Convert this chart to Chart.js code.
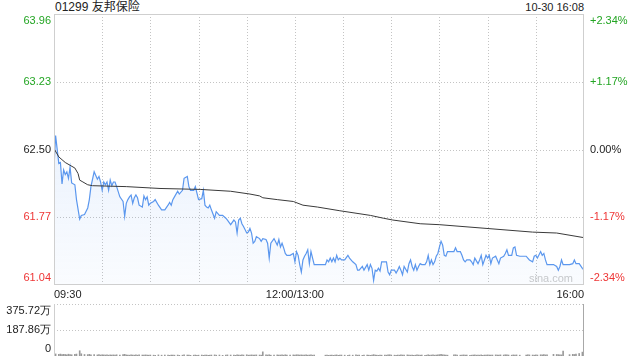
<!DOCTYPE html>
<html><head><meta charset="utf-8">
<script src="https://cdn.jsdelivr.net/npm/chart.js@4"></script>
<style>
html,body{margin:0;padding:0;background:#fff;width:640px;height:360px;overflow:hidden;font-family:"Liberation Sans","Noto Sans CJK SC",Arial,sans-serif;}
#title{position:absolute;left:55px;top:0px;font-size:12px;color:#222;line-height:15px;white-space:nowrap;}
#stamp{position:absolute;right:56px;top:0px;font-size:11px;color:#222;line-height:15px;white-space:nowrap;}
canvas{position:absolute;left:0;}
</style></head><body>
<div id="title">01299 友邦保险</div>
<div id="stamp">10-30 16:08</div>
<canvas id="c1" width="640" height="300" style="top:0px"></canvas>
<canvas id="c2" width="640" height="60" style="top:300px"></canvas>
<script>
// ---- data ----
const prevClose = 62.50;
const priceTicks = [61.04, 61.77, 62.50, 63.23, 63.96];
const volTicks = [0, 187.86, 375.72];
const gridMinutes = [0,30,60,90,120,150,180,210,240,270,300,330];
const timeTickValues = [0,150,330];
const timeTickLabels = ['09:30','12:00/13:00','16:00'];

const minutes = [
0,1,3,4,5,6,7,8,9,10,
11,13,14,16,17,19,21,22,23,25,
27,28,29,30,31,32,33,34,35,36,
37,38,39,41,43,44,45,46,47,48,
49,50,51,52,53,55,56,57,58,59,
60,62,63,65,67,69,71,72,73,74,
75,77,78,80,81,83,84,85,87,88,
89,90,92,93,94,95,96,97,98,100,
101,103,105,107,108,110,112,113,114,115,
116,117,118,120,121,122,123,124,125,126,
128,129,130,132,133,134,135,137,139,140,
141,142,143,144,145,147,149,150,151,152,
153,154,155,156,157,158,159,160,161,162,
169,170,171,172,173,174,175,176,177,178,
179,181,183,184,186,188,189,190,192,193,
195,196,197,198,199,200,201,202,203,204,
206,207,208,209,210,212,213,214,215,216,
217,218,220,221,222,223,224,225,226,227,
228,229,231,232,233,234,235,236,237,238,
239,240,241,242,243,244,245,249,250,251,
253,254,255,256,257,259,260,261,262,263,
264,265,266,267,268,269,270,271,272,273,
275,276,277,278,280,281,282,283,285,286,
287,288,290,294,295,296,298,299,300,301,
303,304,305,306,307,311,313,314,315,316,
317,321,323,324,325,327,329,330];

const prices = [
62.31,62.65,62.35,62.36,62.13,62.28,62.23,62.26,62.19,62.31,
62.14,62.12,61.96,61.75,61.79,61.80,61.87,61.96,62.10,62.26,
62.18,62.21,62.15,62.06,62.15,62.12,62.15,62.06,62.17,62.11,
62.15,62.15,62.10,61.99,61.94,61.78,61.92,61.96,61.99,62.01,
61.92,61.98,62.01,61.98,61.90,61.88,62.00,61.96,61.99,61.90,
61.92,61.94,61.96,61.90,61.85,61.85,61.90,61.93,61.90,61.96,
61.99,62.05,62.02,62.06,62.19,62.21,62.10,62.06,62.06,62.10,
62.03,61.96,61.97,62.06,61.90,61.88,61.87,61.90,61.85,61.76,
61.83,61.79,61.79,61.76,61.74,61.69,61.74,61.72,61.60,61.74,
61.76,61.70,61.67,61.60,61.61,61.65,61.60,61.49,61.51,61.56,
61.54,61.51,61.54,61.53,61.49,61.33,61.49,61.54,61.47,61.53,
61.45,61.49,61.44,61.38,61.36,61.36,61.38,61.29,61.40,61.36,
61.26,61.18,61.31,61.35,61.38,61.42,61.27,61.40,61.33,61.26,
61.26,61.31,61.29,61.33,61.29,61.33,61.29,61.36,61.31,61.33,
61.31,61.31,61.36,61.33,61.29,61.26,61.20,61.20,61.24,61.20,
61.26,61.20,61.26,61.22,61.09,61.20,61.19,61.22,61.19,61.29,
61.29,61.29,61.18,61.15,61.20,61.20,61.17,61.20,61.24,61.20,
61.15,61.24,61.18,61.27,61.31,61.24,61.20,61.26,61.20,61.24,
61.27,61.26,61.26,61.29,61.36,61.26,61.31,61.26,61.29,61.35,
61.38,61.45,61.51,61.47,61.36,61.35,61.40,61.40,61.44,61.40,
61.40,61.36,61.31,61.29,61.31,61.31,61.29,61.26,61.33,61.30,
61.27,61.31,61.36,61.26,61.31,61.36,61.33,61.36,61.27,61.33,
61.35,61.31,61.27,61.33,61.35,61.38,61.42,61.36,61.36,61.44,
61.45,61.36,61.35,61.35,61.33,61.31,61.29,61.35,61.36,61.33,
61.40,61.36,61.38,61.31,61.26,61.26,61.24,61.20,61.24,61.31,
61.26,61.26,61.27,61.31,61.27,61.27,61.22,61.20];

const avgMinutes = [0,3,5,7,10,13,15,16,18,21,24,45,66,91,110,122,128,130,139,149,155,164,178,197,205,211,228,240,269,298,313,330];
const avgPrices = [62.51,62.42,62.39,62.36,62.33,62.30,62.24,62.17,62.15,62.12,62.11,62.10,62.08,62.07,62.05,62.02,62.00,61.98,61.96,61.94,61.90,61.88,61.84,61.79,61.76,61.74,61.70,61.69,61.65,61.61,61.60,61.55];

// volume in 万 (aligned with minutes)
const volumes = [
30,15,12,14,10,12,11,9,13,10,
9,12,14,38,16,11,10,12,9,11,
8,10,7,9,8,7,9,6,8,7,
8,6,9,7,10,12,8,7,6,8,
7,6,8,6,9,7,6,8,7,6,
7,6,5,8,6,7,6,5,7,6,
6,7,5,6,8,7,6,5,6,7,
5,6,7,5,6,7,5,6,7,8,
6,7,5,6,8,7,6,5,9,7,
6,8,7,9,6,7,8,6,7,8,
7,6,30,8,7,9,6,7,8,6,
7,8,6,9,7,6,8,7,9,8,
7,8,6,7,9,6,7,8,6,7,
6,7,5,6,7,5,6,8,5,6,
7,6,5,7,6,8,6,7,5,6,
7,6,5,6,10,7,6,5,7,6,
7,6,8,9,7,6,5,7,6,8,
7,6,8,7,6,7,5,6,8,7,
6,7,5,6,9,6,7,8,6,7,
8,10,12,9,8,7,6,8,9,7,
6,7,8,6,7,5,6,7,8,6,
7,6,8,5,7,6,8,7,6,7,
8,7,6,8,7,9,8,7,6,8,
7,8,6,7,9,8,7,6,8,7,
9,8,10,8,9,12,11,10,9,8,
35,10,12,11,13,18,28,30];

// ---- styling ----
const FONT = '"Liberation Sans", Arial, sans-serif';
const GREEN = '#23a523', RED = '#ee3535', DARK = '#222222';
const GRID = '#c4c4c4', FRAME = '#cfcfcf';
function priceColor(v){ if (Math.abs(v - prevClose) < 1e-6) return DARK; return v > prevClose ? GREEN : RED; }
function edgeLabel(text, i, n){ if (i === 0) return [text, '']; if (i === n - 1) return ['', text]; return text; }

// dotted grid drawn from the scales' own value->pixel mapping
const dotGridPlugin = {
  id: 'dotgrid',
  beforeDatasetsDraw(chart, args, opts) {
    const {ctx, chartArea: a, scales} = chart;
    ctx.save();
    ctx.lineWidth = 1;
    ctx.strokeStyle = GRID;
    ctx.setLineDash([1, 2]);
    ctx.beginPath();
    (opts.xValues || []).forEach(v => {
      const px = Math.round(scales.x.getPixelForValue(v)) + 0.5;
      ctx.moveTo(px, a.top); ctx.lineTo(px, a.bottom);
    });
    (opts.yValues || []).forEach(v => {
      const py = Math.round(scales.y.getPixelForValue(v)) + 0.5;
      ctx.moveTo(a.left, py); ctx.lineTo(a.right, py);
    });
    ctx.stroke();
    ctx.restore();
  }
};
const framePlugin = {
  id: 'frame',
  afterDatasetsDraw(chart, args, opts) {
    const {ctx, chartArea: a} = chart;
    const L = Math.round(a.left) + 0.5, R = Math.round(a.right) - 0.5;
    const T = Math.round(a.top) + 0.5, B = Math.round(a.bottom) - 0.5;
    ctx.save();
    ctx.lineWidth = 1;
    ctx.setLineDash([]);
    ctx.strokeStyle = opts.color || FRAME;
    ctx.beginPath();
    if (opts.top) { ctx.moveTo(L, T); ctx.lineTo(R, T); }
    if (opts.bottom) { ctx.moveTo(L, B); ctx.lineTo(R, B); }
    ctx.moveTo(L, a.top); ctx.lineTo(L, a.bottom);
    ctx.stroke();
    ctx.strokeStyle = opts.rightColor || opts.color || FRAME;
    ctx.beginPath();
    ctx.moveTo(R, a.top); ctx.lineTo(R, a.bottom);
    ctx.stroke();
    ctx.restore();
  }
};
const markPlugin = {
  id: 'mark',
  beforeDatasetsDraw(chart) {
    const {ctx, chartArea: a} = chart;
    ctx.save();
    ctx.font = '11px ' + FONT;
    ctx.fillStyle = '#cacaca';
    ctx.textAlign = 'right';
    ctx.textBaseline = 'middle';
    ctx.fillText('sina.com', a.right - 11, a.bottom - 6);
    ctx.restore();
  }
};

new Chart(document.getElementById('c1'), {
  type: 'line',
  data: {
    datasets: [
      {
        label: 'avg',
        data: avgMinutes.map((m, i) => ({x: m, y: avgPrices[i]})),
        borderColor: '#3a3a3a', borderWidth: 1, pointRadius: 0, fill: false, tension: 0
      },
      {
        label: 'price',
        data: minutes.map((m, i) => ({x: m, y: prices[i]})),
        borderColor: '#5b97ee', borderWidth: 1.2, pointRadius: 0, tension: 0,
        fill: 'start',
        backgroundColor: (c) => {
          const a = c.chart.chartArea;
          if (!a) return 'rgba(91,151,238,0.08)';
          const g = c.chart.ctx.createLinearGradient(0, a.top + 110, 0, a.bottom);
          g.addColorStop(0, 'rgba(91,151,238,0.13)');
          g.addColorStop(1, 'rgba(91,151,238,0.03)');
          return g;
        }
      }
    ]
  },
  options: {
    responsive: false, animation: false, events: [],
    layout: { padding: { top: 14, left: 0, right: 0, bottom: 0 } },
    plugins: {
      legend: { display: false }, tooltip: { enabled: false },
      frame: { top: true, bottom: true },
      dotgrid: { xValues: gridMinutes.slice(1, -1), yValues: priceTicks.slice(1, -1) }
    },
    scales: {
      x: {
        type: 'linear', min: 0, max: 330,
        afterBuildTicks: s => { s.ticks = gridMinutes.map(v => ({value: v})); },
        afterFit: s => { s.height = 15; s.paddingLeft = 0; s.paddingRight = 0; },
        ticks: {
          autoSkip: false, maxRotation: 0, minRotation: 0, align: 'inner', padding: 3,
          font: { size: 11, family: FONT }, color: DARK,
          callback: (v) => { const i = timeTickValues.indexOf(v); return i >= 0 ? timeTickLabels[i] : ''; }
        },
        grid: { display: false, drawTicks: false },
        border: { display: false }
      },
      y: {
        position: 'left', min: priceTicks[0], max: priceTicks[priceTicks.length - 1],
        afterBuildTicks: s => { s.ticks = priceTicks.map(v => ({value: v})); },
        afterFit: s => { s.width = 54; s.paddingTop = 0; s.paddingBottom = 0; },
        ticks: {
          autoSkip: false, padding: 3, font: { size: 11, family: FONT },
          color: c => priceColor(c.tick.value),
          callback: (v, i, t) => edgeLabel(Number(v).toFixed(2), i, t.length)
        },
        grid: { display: false, drawTicks: false },
        border: { display: false }
      },
      y2: {
        position: 'right', min: priceTicks[0], max: priceTicks[priceTicks.length - 1],
        afterBuildTicks: s => { s.ticks = priceTicks.map(v => ({value: v})); },
        afterFit: s => { s.width = 56; s.paddingTop = 0; s.paddingBottom = 0; },
        ticks: {
          autoSkip: false, padding: 6, font: { size: 11, family: FONT },
          color: c => priceColor(c.tick.value),
          callback: (v, i, t) => {
            const p = (v - prevClose) / prevClose * 100;
            const s = (p > 0.0001 ? '+' : '') + p.toFixed(2) + '%';
            return edgeLabel(s, i, t.length);
          }
        },
        grid: { display: false, drawTicks: false },
        border: { display: false }
      }
    }
  },
  plugins: [dotGridPlugin, framePlugin, markPlugin]
});

new Chart(document.getElementById('c2'), {
  type: 'bar',
  data: {
    datasets: [{
      data: minutes.map((m, i) => ({x: m, y: volumes[i]})),
      backgroundColor: '#9a9a9a', barThickness: 1, borderWidth: 0
    }]
  },
  options: {
    responsive: false, animation: false, events: [],
    layout: { padding: { top: 4, left: 0, right: 56, bottom: 4 } },
    plugins: {
      legend: { display: false }, tooltip: { enabled: false },
      frame: { top: false, bottom: false, rightColor: '#a8a8a8' },
      dotgrid: { xValues: [], yValues: volTicks.slice(1) }
    },
    scales: {
      x: { type: 'linear', min: 0, max: 330, display: false, offset: false },
      y: {
        position: 'left', min: volTicks[0], max: volTicks[volTicks.length - 1],
        afterBuildTicks: s => { s.ticks = volTicks.map(v => ({value: v})); },
        afterFit: s => { s.width = 54; s.paddingTop = 0; s.paddingBottom = 0; },
        ticks: {
          autoSkip: false, padding: 3, font: { size: 11, family: FONT }, color: DARK,
          callback: (v, i, t) => edgeLabel(v === 0 ? '0' : Number(v).toFixed(2) + '万', i, t.length)
        },
        grid: { display: false, drawTicks: false },
        border: { display: false }
      }
    }
  },
  plugins: [dotGridPlugin, framePlugin]
});
</script>
</body></html>
